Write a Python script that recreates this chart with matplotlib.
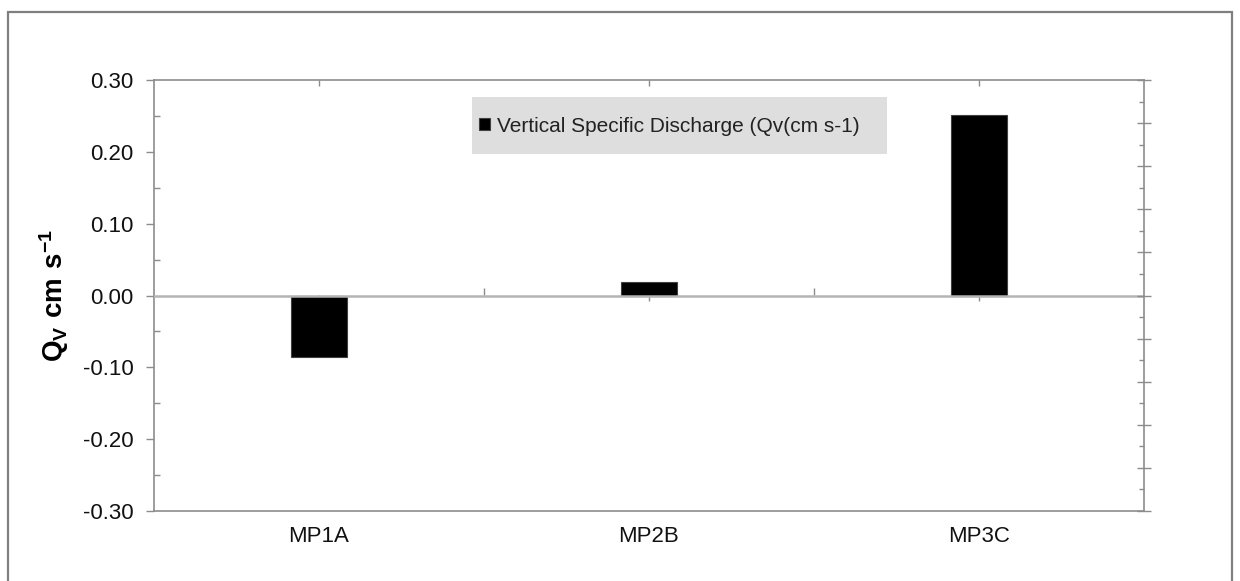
import matplotlib.pyplot as plt
from matplotlib.patches import Rectangle
from matplotlib.ticker import MultipleLocator, FixedLocator, NullFormatter

plt.rcParams['font.family'] = ['Liberation Sans', 'DejaVu Sans']
plt.rcParams['mathtext.fontset'] = 'custom'
plt.rcParams['mathtext.rm'] = 'Liberation Sans'
plt.rcParams['mathtext.bf'] = 'Liberation Sans:bold'

# data
sites = ['MP1A', 'MP2B', 'MP3C']
qv = [-0.085, 0.019, 0.251]
series_name = 'Vertical Specific Discharge (Qv(cm s-1)'

axis_grey = '#8c8c8c'

fig = plt.figure(figsize=(12.4, 5.81), dpi=100)
ax = fig.add_axes([154 / 1240, 1 - 511 / 581, 990 / 1240, 431 / 581])

x = list(range(len(sites)))
bars = ax.bar(x, qv, width=0.167, color='black', edgecolor='#404040',
              linewidth=0.8, zorder=2)

ax.set_xlim(-0.5, len(sites) - 0.5)
ax.set_ylim(-0.30, 0.30)

# left axis
ax.yaxis.set_major_locator(MultipleLocator(0.1))
ax.yaxis.set_minor_locator(MultipleLocator(0.05))
ax.yaxis.set_major_formatter(lambda v, p: f'{v:.2f}')
ax.tick_params(axis='y', which='major', direction='out', length=5.8,
               width=1, color=axis_grey, labelsize=16, pad=9, labelcolor='#111111')
ax.tick_params(axis='y', which='minor', direction='in', length=4.3,
               width=1, color=axis_grey)

# category axis: labels at bottom, ticks at top
ax.set_xticks(x, sites)
ax.tick_params(axis='x', which='major', direction='in', length=4.3, width=1,
               color=axis_grey, top=True, bottom=False, labelsize=16,
               pad=11, labelcolor='#111111')

for s in ['left', 'top', 'bottom']:
    ax.spines[s].set_color(axis_grey)
    ax.spines[s].set_linewidth(1.2)
ax.spines['right'].set_visible(False)

# zero line: light grey, ticks down at category borders, up at centres
ax.axhline(0, color='#b4b4b4', linewidth=1.8, zorder=3)
zdown = ax.secondary_xaxis(0.5)
zdown.set_xticks([0.5, 1.5], ['', ''])
zdown.tick_params(axis='x', direction='out', length=5, width=1, color=axis_grey)
zup = ax.secondary_xaxis(0.5)
zup.set_xticks(x, ['', '', ''])
zup.tick_params(axis='x', direction='in', length=4.5, width=1, color=axis_grey)
for z in (zdown, zup):
    for sp in z.spines.values():
        sp.set_visible(False)

# right axis, ticks only
rax = ax.twinx()
rax.set_ylim(-0.30, 0.30)
rax.yaxis.set_major_locator(MultipleLocator(0.06))
rax.yaxis.set_minor_locator(MultipleLocator(0.03))
rax.yaxis.set_major_formatter(NullFormatter())
rax.tick_params(axis='y', which='major', direction='inout', length=9.4,
                width=1, color=axis_grey)
rax.tick_params(axis='y', which='minor', direction='in', length=3.4,
                width=1, color=axis_grey)
for s in ['left', 'top', 'bottom']:
    rax.spines[s].set_visible(False)
rax.spines['right'].set_color(axis_grey)
rax.spines['right'].set_linewidth(1.2)

ax.set_ylabel(r'$\mathbf{Q_V\ cm\ s^{-1}}$', fontsize=20)
ax.yaxis.set_label_coords(-0.084, 0.5)

# legend with grey background
ax.add_patch(Rectangle((472 / 1240, 1 - 154 / 581), 415 / 1240, 57 / 581,
                       transform=fig.transFigure, facecolor='#dedede',
                       edgecolor='none', zorder=1, clip_on=False))
leg = rax.legend([bars], [series_name], loc='center left',
                 bbox_to_anchor=(479 / 1240, 1 - 126 / 581),
                 bbox_transform=fig.transFigure, frameon=False, fontsize=15,
                 handlelength=0.55, handleheight=0.55, handletextpad=0.3,
                 borderaxespad=0, borderpad=0)
for t in leg.get_texts():
    t.set_color('#222222')

# outer chart border
fig.patches.append(Rectangle((8 / 1240, -0.1), 1224 / 1240, 1.1 - 12 / 581,
                             transform=fig.transFigure, facecolor='none',
                             edgecolor='#7f7f7f', linewidth=1.6, zorder=5))

fig.savefig('out.png', dpi=100)
